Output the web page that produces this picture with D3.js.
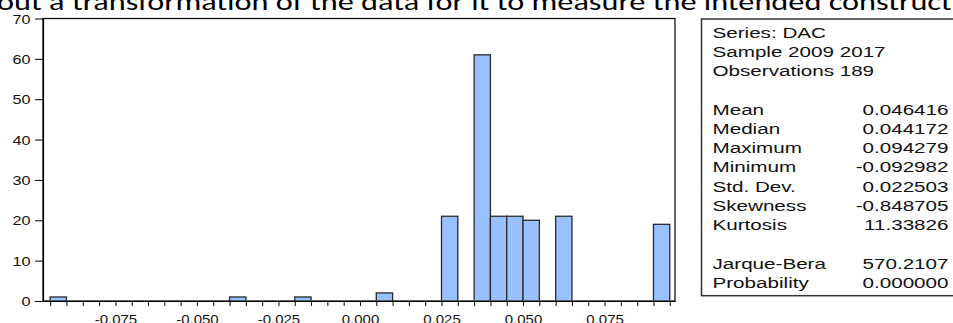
<!DOCTYPE html>
<html>
<head>
<meta charset="utf-8">
<script src="https://cdn.jsdelivr.net/npm/d3@7"></script>
<style>
html,body{margin:0;padding:0;background:#fff;overflow:hidden;}
svg{display:block;}
</style>
</head>
<body>
<svg id="chart" width="953" height="323"></svg>
<script>
// ---- data ----
const binStarts = [-0.095, -0.040, -0.020, 0.005, 0.025, 0.035, 0.040, 0.045, 0.050, 0.060, 0.090];
const binEnds   = [-0.090, -0.035, -0.015, 0.010, 0.030, 0.040, 0.045, 0.050, 0.055, 0.065, 0.095];
const counts    = [1, 1, 1, 2, 21, 61, 21, 21, 20, 21, 19];
const xMinorTicks = d3.range(-19, 20).map(i => i * 0.005);
const xTickLabels = [-0.075, -0.050, -0.025, 0.000, 0.025, 0.050, 0.075];
const yTicks = [0, 10, 20, 30, 40, 50, 60, 70];
const headerLines = ["Series: DAC", "Sample 2009 2017", "Observations 189"];
const statNames  = ["Mean", "Median", "Maximum", "Minimum", "Std. Dev.", "Skewness", "Kurtosis"];
const statValues = ["0.046416", "0.044172", "0.094279", "-0.092982", "0.022503", "-0.848705", "11.33826"];
const testNames  = ["Jarque-Bera", "Probability"];
const testValues = ["570.2107", "0.000000"];
const topText = "out a transformation of the data for it to measure the intended constructi";

const svg = d3.select("#chart");
const L = 43, R = 675, T = 18.5, B = 301;
const x = d3.scaleLinear().domain([-0.0972, 0.0966]).range([L, R]);
const y = d3.scaleLinear().domain([0, 70]).range([B, T]);
const font = "'Liberation Sans', Arial, sans-serif";
const fmtX = d => d3.format(".3f")(d).replace("\u2212", "-");

// cut-off document text at top
svg.append("text")
  .attr("x", -3).attr("y", 9.5)
  .attr("font-family", "Carlito, 'Open Sans', 'Noto Sans', sans-serif")
  .attr("font-size", 25)
  .attr("fill", "#000")
  .attr("textLength", 962)
  .attr("lengthAdjust", "spacingAndGlyphs")
  .text(topText);

// plot frame
svg.append("rect")
  .attr("x", L).attr("y", T).attr("width", R - L).attr("height", B - T)
  .attr("fill", "none").attr("stroke", "#000").attr("stroke-width", 1.2);

// bars
svg.append("g").selectAll("rect").data(counts).join("rect")
  .attr("x", (d, i) => x(binStarts[i]))
  .attr("width", (d, i) => x(binEnds[i]) - x(binStarts[i]))
  .attr("y", d => y(d))
  .attr("height", d => y(0) - y(d))
  .attr("fill", "#99c0ff")
  .attr("stroke", "#2a2a2a")
  .attr("stroke-width", 1.3);

// x axis
const xAxis = svg.append("g").attr("transform", `translate(0,${B})`)
  .call(d3.axisBottom(x).tickValues(xMinorTicks).tickSize(5).tickSizeOuter(0)
    .tickFormat(d => xTickLabels.some(v => Math.abs(v - d) < 1e-9) ? fmtX(d) : ""));
xAxis.select(".domain").attr("stroke", "#000").attr("stroke-width", 1.2);
xAxis.selectAll(".tick line").attr("stroke", "#000").attr("stroke-width", 1);
xAxis.selectAll(".tick text")
  .attr("font-family", font).attr("font-size", 12.5).attr("fill", "#111")
  .attr("y", 0).attr("dy", 0)
  .attr("transform", `translate(0,23.2) scale(1.2,1)`);

// y axis
const yAxis = svg.append("g").attr("transform", `translate(${L},0)`)
  .call(d3.axisLeft(y).tickValues(yTicks).tickSize(8).tickSizeOuter(0));
yAxis.select(".domain").attr("stroke", "#000").attr("stroke-width", 1.2);
yAxis.selectAll(".tick line").attr("stroke", "#000").attr("stroke-width", 1);
yAxis.selectAll(".tick text")
  .attr("font-family", font).attr("font-size", 12.5).attr("fill", "#111")
  .attr("x", 0).attr("dy", "0.36em")
  .attr("transform", `translate(-12.5,0) scale(1.3,1)`);

// stats box
const bx = 701.5, by = 19, bb = 295.7;
svg.append("rect")
  .attr("x", bx).attr("y", by).attr("width", 960 - bx).attr("height", bb - by)
  .attr("fill", "#fff").attr("stroke", "#333").attr("stroke-width", 1.5);

const sx = 1.34, fs = 15.4;
const lx = 712.5, rx = 948.5, y0 = 32, dy = 19.25;
const rows = [];
headerLines.forEach((t, i) => rows.push({label: t, value: null, row: i}));
statNames.forEach((t, i) => rows.push({label: t, value: statValues[i], row: 4 + i}));
testNames.forEach((t, i) => rows.push({label: t, value: testValues[i], row: 12 + i}));

const sg = svg.append("g").attr("font-family", font).attr("font-size", fs).attr("fill", "#111");
rows.forEach(r => {
  const cy = y0 + r.row * dy + 5.5;
  sg.append("text").attr("transform", `translate(${lx},${cy}) scale(${sx},1)`).text(r.label);
  if (r.value !== null) {
    sg.append("text").attr("text-anchor", "end")
      .attr("transform", `translate(${rx},${cy}) scale(${sx},1)`).text(r.value);
  }
});
</script>
</body>
</html>
